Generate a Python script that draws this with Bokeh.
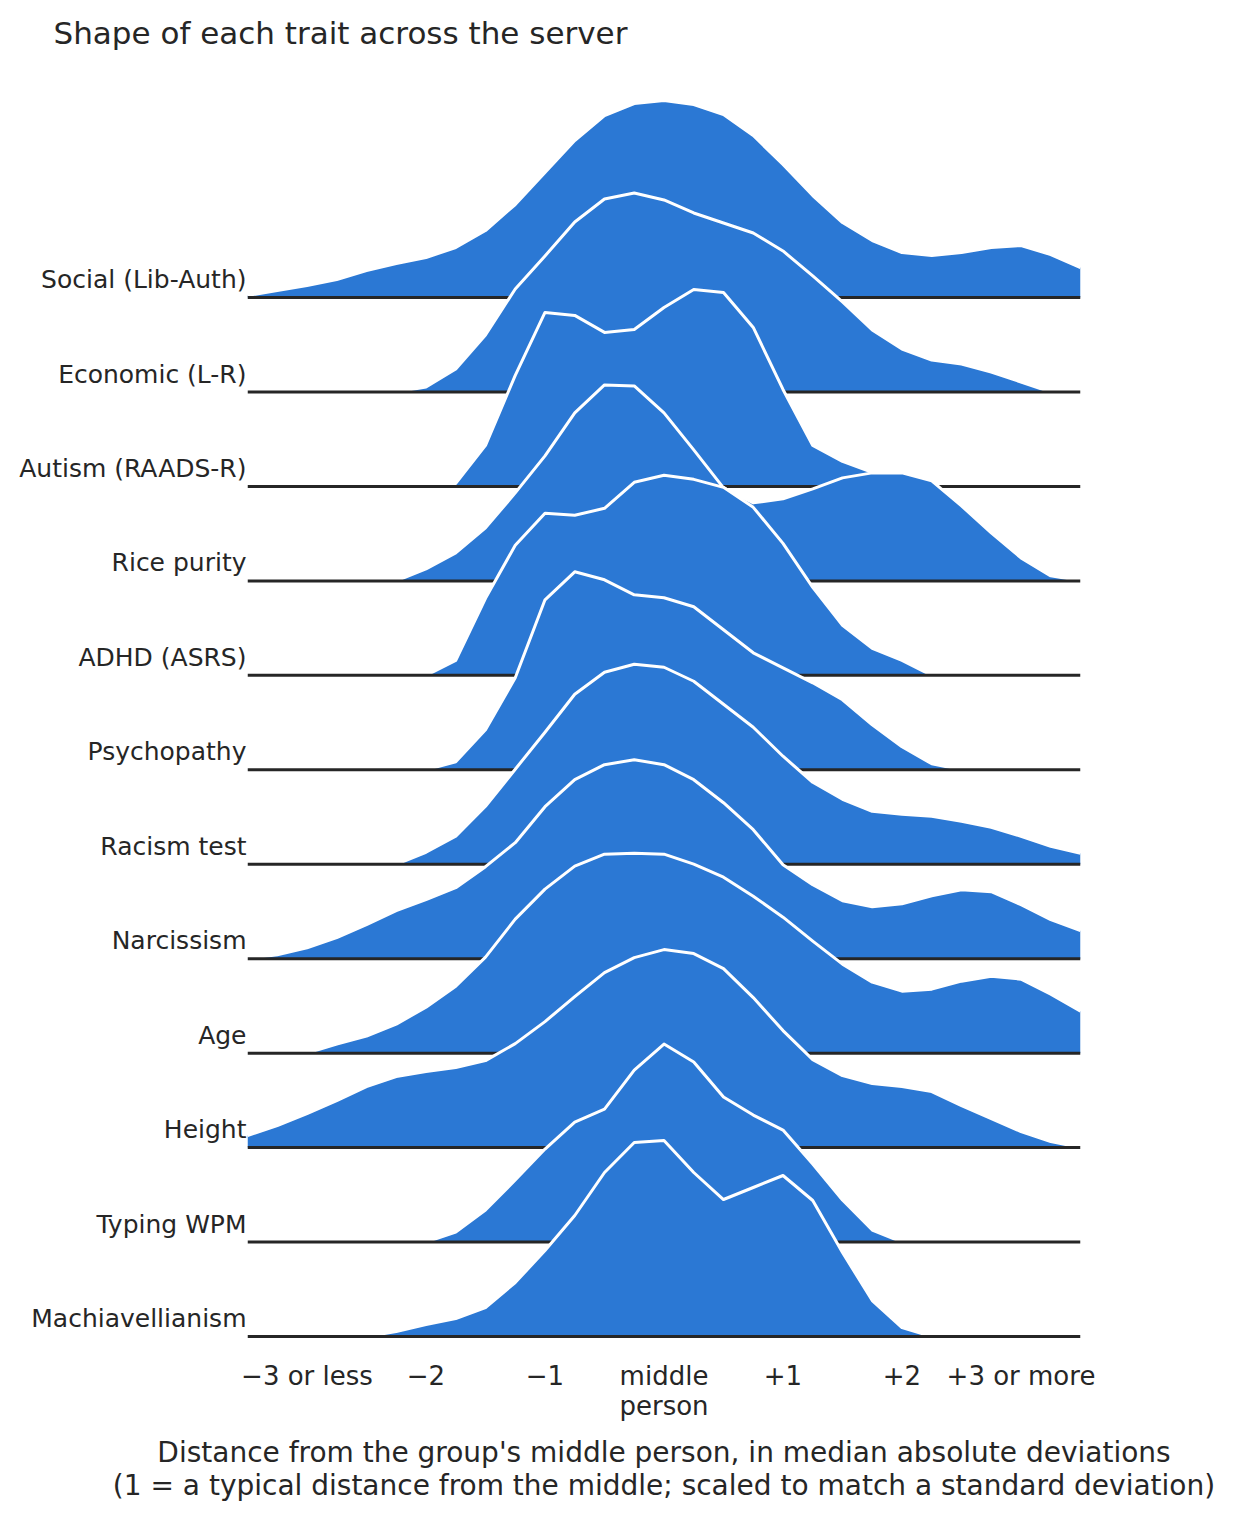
from bokeh.plotting import figure
from bokeh.models import Range1d, FixedTicker
from bokeh.embed import file_html
from bokeh.resources import INLINE

# x positions where the curves were read (distance from the middle, scaled MADs)
x_grid = [-3.5 + 0.25 * i for i in range(29)]

traits = ["Social (Lib-Auth)", "Economic (L-R)", "Autism (RAADS-R)", "Rice purity",
          "ADHD (ASRS)", "Psychopathy", "Racism test", "Narcissism", "Age",
          "Height", "Typing WPM", "Machiavellianism"]

# curve height at each x, in % of the tallest point (None = no curve there)
social = [1, 3.5, 6, 9, 13.5, 17, 20, 25, 33.5, 46.5, 62.5, 78.5, 91, 97, 98.5,
          96.5, 91.5, 81, 66.5, 51, 37.5, 28.5, 22.5, 21, 22.5, 25, 26, 21.5, 15]
economic = [None, None, None, None, None, 0, 2.5, 11.5, 28.5, 51.5, 68, 85, 96.5, 99.5, 96,
            89.5, 84.5, 79.5, 70.5, 58, 45, 31, 21.5, 16, 14, 10, 5, 0, None]
autism = [None, None, None, None, None, None, 0, 1.5, 20.5, 55.5, 87, 85.5, 77, 78.5, 89.5,
          98.5, 97, 79.5, 48.5, 20.5, 12.5, 7, 3, 0, None, None, None, None, None]
rice = [None, None, None, None, None, 0, 6, 14, 26.5, 44, 62.5, 84, 98, 97.5, 84,
        65.5, 46.5, 39, 41, 46, 51.5, 54, 54, 50, 37.5, 24, 11.5, 2.5, 0]
adhd = [None, None, None, None, None, None, 0, 7.5, 38.5, 65, 81, 80, 83.5, 96.5, 100,
        98, 94, 84, 66, 44, 25, 13.5, 7.5, 0, None, None, None, None, None]
psychopathy = [None, None, None, None, None, None, 0, 4, 20, 46, 85, 99, 95, 87.5, 86,
               81.5, 70, 58.5, 51, 43.5, 35, 22.5, 11.5, 3, 0, None, None, None, None]
racism = [None, None, None, None, None, 0, 6, 14, 29, 47.5, 66, 85, 96, 100, 98.5,
          91.5, 80, 68.5, 54, 41, 32.5, 26.5, 25, 24, 21.5, 18.5, 14, 9, 5.5]
narcissism = [0, 2, 5.5, 10.5, 17, 24, 29.5, 35.5, 46, 58, 76, 89.5, 97, 99.5, 97,
              89.5, 78, 64.5, 47, 37, 29, 26, 27.5, 31.5, 34.5, 33.5, 27, 19.5, 14]
age = [None, None, 0, 4.5, 8.5, 14.5, 23, 33.5, 48, 67, 82, 93.5, 99.5, 100, 99.5,
       94.5, 88, 78.5, 68, 56, 44.5, 35.5, 31, 32, 36, 38.5, 37, 29.5, 21]
height = [6, 11, 17, 23.5, 30.5, 35.5, 38, 40, 43.5, 52, 63, 75.5, 87.5, 95, 99,
          97, 89.5, 75, 58.5, 44, 36, 32, 30.5, 28, 21, 14.5, 8, 3, 0]
typing = [None, None, None, None, None, None, 0, 5, 16, 31, 46.5, 60, 66.5, 86, 99,
          90, 72.5, 63.5, 56, 39, 21, 6, 0, None, None, None, None, None, None]
machiavellianism = [None, None, None, None, 0, 2.5, 6, 9, 14.5, 27, 43, 60.5, 82, 97, 98,
                    82, 68.5, 74.5, 80.5, 68, 42, 18, 4.5, 0, None, None, None, None, None]

curves = [social, economic, autism, rice, adhd, psychopathy, racism, narcissism,
          age, height, typing, machiavellianism]

tick_values = [-3, -2, -1, 0, 1, 2, 3]
tick_labels = ["\u22123 or less", "\u22122", "\u22121", "middle\nperson", "+1", "+2", "+3 or more"]

BLUE = "#2b78d4"
INK = "#262626"
FONT = "DejaVu Sans"
ROW_PX = 94.45               # pixels between two baselines
PEAK = 200 / ROW_PX          # tallest point, in rows
LABEL_LIFT = 0.19            # trait name sits just above its line

n = len(traits)
p = figure(width=1220, height=1509,
           x_range=Range1d(-3.5, 3.5), y_range=Range1d(-0.148, 13.52),
           output_backend="svg", toolbar_location=None,
           min_border_left=247, min_border_right=140,
           min_border_top=59, min_border_bottom=159)

# top ridge first so each lower ridge is painted over the one above
for i, (name, vals) in enumerate(zip(traits, curves)):
    base = n - 1 - i
    xs = [x for x, v in zip(x_grid, vals) if v is not None]
    tops = [base + v / 100 * PEAK for v in vals if v is not None]
    p.varea(x=xs, y1=[base] * len(xs), y2=tops, fill_color=BLUE)
    p.line(xs, tops, line_color="white", line_width=3, line_join="round")
    p.segment(x0=[-3.5], y0=[base], x1=[3.5], y1=[base], line_color=INK, line_width=3)

p.title.text = "Shape of each trait across the server"
p.title.align = "left"
p.title.offset = -194
p.title.standoff = 17
p.title.text_font = FONT
p.title.text_font_size = "31px"
p.title.text_font_style = "normal"
p.title.text_color = INK

p.xaxis.ticker = FixedTicker(ticks=tick_values)
p.xaxis.major_label_overrides = dict(zip(tick_values, tick_labels))
p.xaxis.axis_label = ("Distance from the group's middle person, in median absolute deviations\n"
                      "(1 = a typical distance from the middle; scaled to match a standard deviation)")
p.xaxis.major_label_standoff = 10
p.xaxis.axis_label_standoff = 12

label_pos = [n - 1 - i + LABEL_LIFT for i in range(n)]
p.yaxis.ticker = FixedTicker(ticks=label_pos)
p.yaxis.major_label_overrides = dict(zip(label_pos, traits))
p.yaxis.major_label_standoff = 1

for ax in (p.xaxis, p.yaxis):
    ax.axis_line_color = None
    ax.major_tick_line_color = None
    ax.minor_tick_line_color = None
    ax.major_tick_out = 0
    ax.major_tick_in = 0
    ax.major_label_text_font = FONT
    ax.major_label_text_color = INK
    ax.axis_label_text_font = FONT
    ax.axis_label_text_font_style = "normal"
    ax.axis_label_text_color = INK

p.yaxis.major_label_text_font_size = "25px"
p.xaxis.major_label_text_font_size = "26px"
p.xaxis.major_label_text_line_height = 1.0
p.xaxis.axis_label_text_font_size = "28px"
p.xaxis.axis_label_text_line_height = 1.0

p.xgrid.grid_line_color = None
p.ygrid.grid_line_color = None
p.outline_line_color = None
p.background_fill_color = "white"
p.border_fill_color = "white"

open("out.html", "w").write(file_html(p, INLINE))
